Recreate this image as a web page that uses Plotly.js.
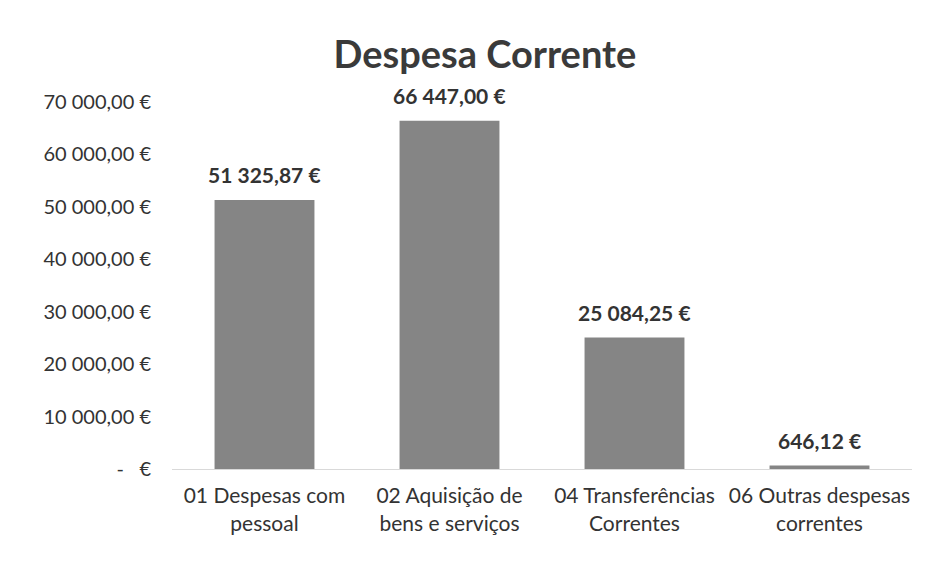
<!DOCTYPE html>
<html>
<head>
<meta charset="utf-8">
<script src="https://cdn.plot.ly/plotly-3.0.1.min.js"></script>
<style>html,body{margin:0;padding:0;background:#fff;}#chart{width:929px;height:568px;}</style>
</head>
<body>
<div id="chart"></div>
<script>
const categories = ["01 Despesas com<br>pessoal", "02 Aquisição de<br>bens e serviços", "04 Transferências<br>Correntes", "06 Outras despesas<br>correntes"];
const values = [51325.87, 66447.00, 25084.25, 646.12];
const valueLabels = ["51 325,87 €", "66 447,00 €", "25 084,25 €", "646,12 €"];
const tickValues = [0, 10000, 20000, 30000, 40000, 50000, 60000, 70000];
const tickLabels = ["-   €", "10 000,00 €", "20 000,00 €", "30 000,00 €", "40 000,00 €", "50 000,00 €", "60 000,00 €", "70 000,00 €"];

const font = "Lato, 'Open Sans', sans-serif";
const annotations = categories.map((c, i) => ({
  x: c, y: values[i], xref: "x", yref: "y",
  text: "<b>" + valueLabels[i] + "</b>",
  showarrow: false, yanchor: "middle", yshift: 25,
  font: {family: font, size: 21, color: "#333333"}
}));

Plotly.newPlot("chart", [{
  type: "bar",
  x: categories,
  y: values,
  marker: {color: "#858585"},
  width: 0.54,
  hoverinfo: "none"
}], {
  width: 929, height: 568,
  margin: {l: 172, r: 17, t: 102, b: 99},
  paper_bgcolor: "#ffffff", plot_bgcolor: "#ffffff",
  showlegend: false,
  annotations: annotations,
  title: {text: "<b>Despesa Corrente</b>", x: 0.522, xanchor: "center", y: 0.903, yanchor: "middle",
          font: {family: font, size: 38, color: "#3a3a3a"}},
  xaxis: {showgrid: false, zeroline: false, showline: true, linecolor: "#d9d9d9", linewidth: 1,
          ticks: "", ticklabelstandoff: 8,
          tickfont: {family: font, size: 21, color: "#333333"}, fixedrange: true},
  yaxis: {range: [0, 70000], tickvals: tickValues, ticktext: tickLabels, showgrid: false, zeroline: false,
          showline: false, ticks: "", ticklabelstandoff: 20,
          tickfont: {family: font, size: 20, color: "#333333"}, fixedrange: true}
}, {staticPlot: true});
</script>
</body>
</html>
